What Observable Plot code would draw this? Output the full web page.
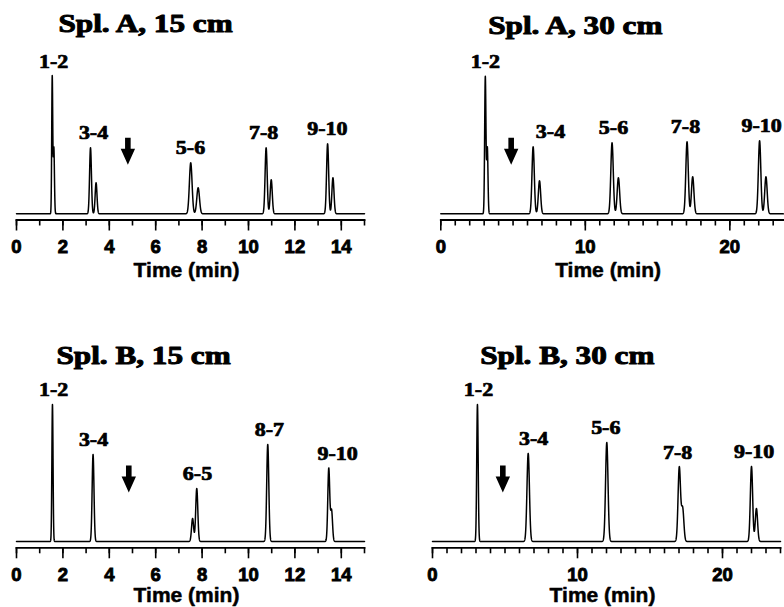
<!DOCTYPE html>
<html>
<head>
<meta charset="utf-8">
<script src="https://cdn.jsdelivr.net/npm/d3@7"></script>
<script src="https://cdn.jsdelivr.net/npm/@observablehq/plot@0.6"></script>
<style>
  html, body { margin: 0; padding: 0; background: #fff; overflow: hidden; }
  #chart { position: relative; width: 784px; height: 607px; background: #fff; }
  .panel { position: absolute; }
</style>
</head>
<body>
<div id="chart"></div>
<script>
// ---------------- DATA ----------------
const titles = ["Spl. A, 15 cm", "Spl. A, 30 cm", "Spl. B, 15 cm", "Spl. B, 30 cm"];
const timeMax = [15, 23.7, 15, 24];                  // end of the time axis (min)
const arrowTimes = [4.8, 4.87, 4.84, 4.85];          // void-time arrow (min)

const tickLabelsA15 = [0, 2, 4, 6, 8, 10, 12, 14];
const tickLabelsA30 = [0, 10, 20];
const tickLabelsB15 = [0, 2, 4, 6, 8, 10, 12, 14];
const tickLabelsB30 = [0, 10, 20];

// peak tables: retention time (min), height (signal units), width sigma (min), label group
const peakTimesA15   = [1.54, 1.61, 3.19, 3.43, 7.51, 7.83, 10.76, 10.98, 13.41, 13.64];
const peakHeightsA15 = [137, 66, 66, 31, 51, 26, 66, 34, 70, 36];
const peakWidthsA15  = [0.022, 0.025, 0.04, 0.04, 0.058, 0.058, 0.045, 0.045, 0.045, 0.045];
const peakGroupsA15  = [0, 0, 1, 1, 2, 2, 3, 3, 4, 4];
const groupLabelsA15 = ["1-2", "3-4", "5-6", "7-8", "9-10"];
const groupTimesA15  = [1.6, 3.32, 7.5, 10.65, 13.4];

const peakTimesA30   = [3.08, 3.22, 6.39, 6.83, 11.85, 12.29, 17.04, 17.43, 22.06, 22.5];
const peakHeightsA30 = [137, 66, 67, 33, 71, 36, 72, 37, 73, 37];
const peakWidthsA30  = [0.045, 0.045, 0.08, 0.08, 0.085, 0.085, 0.085, 0.085, 0.085, 0.085];
const peakGroupsA30  = [0, 0, 1, 1, 2, 2, 3, 3, 4, 4];
const groupLabelsA30 = ["1-2", "3-4", "5-6", "7-8", "9-10"];
const groupTimesA30  = [3.09, 7.59, 11.95, 16.93, 22.2];

const peakTimesB15   = [1.55, 3.3, 7.59, 7.77, 10.83, 13.46, 13.58];
const peakHeightsB15 = [137, 87, 23, 53, 97, 73, 31];
const peakWidthsB15  = [0.025, 0.04, 0.045, 0.045, 0.045, 0.042, 0.042];
const peakGroupsB15  = [0, 1, 2, 2, 3, 4, 4];
const groupLabelsB15 = ["1-2", "3-4", "6-5", "8-7", "9-10"];
const groupTimesB15  = [1.6, 3.32, 7.8, 10.9, 13.84];

const peakTimesB30   = [3.1, 6.6, 12.02, 17.02, 17.25, 22.0, 22.34];
const peakHeightsB30 = [137, 88, 99, 74, 33, 75, 33];
const peakWidthsB30  = [0.05, 0.085, 0.085, 0.085, 0.085, 0.08, 0.08];
const peakGroupsB30  = [0, 1, 2, 3, 3, 4, 4];
const groupLabelsB30 = ["1-2", "3-4", "5-6", "7-8", "9-10"];
const groupTimesB30  = [3.17, 6.97, 11.95, 16.9, 22.18];

// ---------------- LAYOUT (positions / styles) ----------------
const layouts = [
  {left: 0,   top: 0,   width: 392, height: 300, mL: 16,   mR: 28,  axisY: 219.5, gap: 6.2, titleDx: 42,   titleBase: 31.7, labelBase: 57},
  {left: 392, top: 0,   width: 392, height: 300, mL: 48.3, mR: 1.2, axisY: 219.5, gap: 6.2, titleDx: 47.4, titleBase: 33,   labelBase: 57},
  {left: 0,   top: 300, width: 392, height: 307, mL: 16,   mR: 28,  axisY: 247.3, gap: 6.3, titleDx: 40,   titleBase: 63.3, labelBase: 54.2},
  {left: 392, top: 300, width: 392, height: 307, mL: 40,   mR: 4,   axisY: 247.3, gap: 6.3, titleDx: 47.7, titleBase: 63.3, labelBase: 54.2}
];
const panelData = [
  {times: peakTimesA15, heights: peakHeightsA15, widths: peakWidthsA15, groups: peakGroupsA15, labels: groupLabelsA15, labelTimes: groupTimesA15, ticks: tickLabelsA15},
  {times: peakTimesA30, heights: peakHeightsA30, widths: peakWidthsA30, groups: peakGroupsA30, labels: groupLabelsA30, labelTimes: groupTimesA30, ticks: tickLabelsA30},
  {times: peakTimesB15, heights: peakHeightsB15, widths: peakWidthsB15, groups: peakGroupsB15, labels: groupLabelsB15, labelTimes: groupTimesB15, ticks: tickLabelsB15},
  {times: peakTimesB30, heights: peakHeightsB30, widths: peakWidthsB30, groups: peakGroupsB30, labels: groupLabelsB30, labelTimes: groupTimesB30, ticks: tickLabelsB30}
];

const SERIF = "Liberation Serif";
const SANS = "Liberation Sans";
const ARROW_TIP = 49;   // arrow tip level above the baseline (signal units)

// filled down-pointing arrow, tip at the anchor point
const downArrow = {
  draw(ctx, size) {
    const k = Math.sqrt(size / Math.PI) / 10;
    ctx.moveTo(-2.8 * k, -27 * k);
    ctx.lineTo(2.8 * k, -27 * k);
    ctx.lineTo(2.8 * k, -16 * k);
    ctx.lineTo(7.2 * k, -16 * k);
    ctx.lineTo(0, 0);
    ctx.lineTo(-7.2 * k, -16 * k);
    ctx.lineTo(-2.8 * k, -16 * k);
    ctx.closePath();
  }
};

const chart = document.getElementById("chart");

panelData.forEach((pd, i) => {
  const L = layouts[i];
  const tMax = timeMax[i];
  // chromatogram trace built from the peak table
  const step = tMax / 6000;
  const trace = d3.range(0, tMax + step / 2, step).map(t => ({
    t,
    s: d3.sum(pd.times, (tp, j) => pd.heights[j] * Math.exp(-((t - tp) ** 2) / (2 * pd.widths[j] ** 2)))
  }));
  const groupMax = pd.labels.map((_, g) => d3.max(pd.heights.filter((h, j) => pd.groups[j] === g)));
  const minorTicks = d3.range(0, Math.floor(tMax) + 1);

  const svg = Plot.plot({
    width: L.width,
    height: L.height,
    marginLeft: L.mL,
    marginRight: L.mR,
    marginTop: 0,
    marginBottom: L.height - L.axisY,
    style: {background: "transparent", overflow: "visible", fontFamily: SANS, fontSize: "18px", fontWeight: "bold", color: "black"},
    x: {domain: [0, tMax], label: null},
    y: {domain: [-L.gap, L.axisY - L.gap], axis: null, label: null},
    marks: [
      Plot.frame({anchor: "bottom", strokeWidth: 1.8, stroke: "black"}),
      Plot.axisX({ticks: minorTicks, tickSize: 6, tickFormat: () => "", label: null, strokeWidth: 1.6}),
      Plot.axisX({ticks: pd.ticks, tickSize: 11, tickPadding: 9, tickFormat: d => String(d), label: null,
        strokeWidth: 1.6, fontSize: 18, fontWeight: "bold", fontFamily: SANS, fill: "black"}),
      Plot.text(["Time (min)"], {frameAnchor: "bottom", lineAnchor: "bottom", dy: L.labelBase, dx: -4,
        fontSize: 21, fontWeight: "bold", fontFamily: SANS, fill: "black", stroke: "black", strokeWidth: 0.5}),
      Plot.line(trace, {x: "t", y: "s", stroke: "black", strokeWidth: 1.5}),
      Plot.text(pd.labels, {x: pd.labelTimes, y: groupMax, text: d => d, lineAnchor: "bottom", dy: -9,
        fontSize: 18, fontWeight: "bold", fontFamily: SERIF, fill: "black", stroke: "black", strokeWidth: 0.7}),
      Plot.dot([arrowTimes[i]], {x: d => d, y: () => ARROW_TIP, symbol: downArrow, r: 10, fill: "black", stroke: "none"}),
      Plot.text([titles[i]], {frameAnchor: "top-left", textAnchor: "start", lineAnchor: "bottom",
        dx: L.titleDx, dy: L.titleBase, fontSize: 26, fontWeight: "bold", fontFamily: SERIF, fill: "black",
        stroke: "black", strokeWidth: 1})
    ]
  });
  const div = document.createElement("div");
  div.className = "panel";
  div.style.left = L.left + "px";
  div.style.top = L.top + "px";
  div.appendChild(svg);
  chart.appendChild(div);

  // heavy sans tick labels (numeric texts of the axis)
  svg.querySelectorAll("text").forEach(t => {
    if (/^\d+$/.test(t.textContent.trim())) {
      t.style.fontFamily = "'Liberation Sans', Arial, sans-serif";
      t.style.fontSize = "18.5px";
      t.style.fontWeight = "bold";
      t.style.fill = "black";
      t.style.stroke = "black";
      t.style.strokeWidth = "0.9px";
    }
  });

  // the reference's serif type is set wide: stretch it horizontally
  svg.querySelectorAll("g[font-family]").forEach(g => {
    if (g.getAttribute("font-family") !== SERIF) return;
    const factor = +g.getAttribute("font-size") >= 24 ? 1.2 : 1.22;
    g.querySelectorAll("text").forEach(t => {
      const len = t.getComputedTextLength();
      t.setAttribute("textLength", (len * factor).toFixed(1));
      t.setAttribute("lengthAdjust", "spacingAndGlyphs");
    });
  });
});
</script>
</body>
</html>
